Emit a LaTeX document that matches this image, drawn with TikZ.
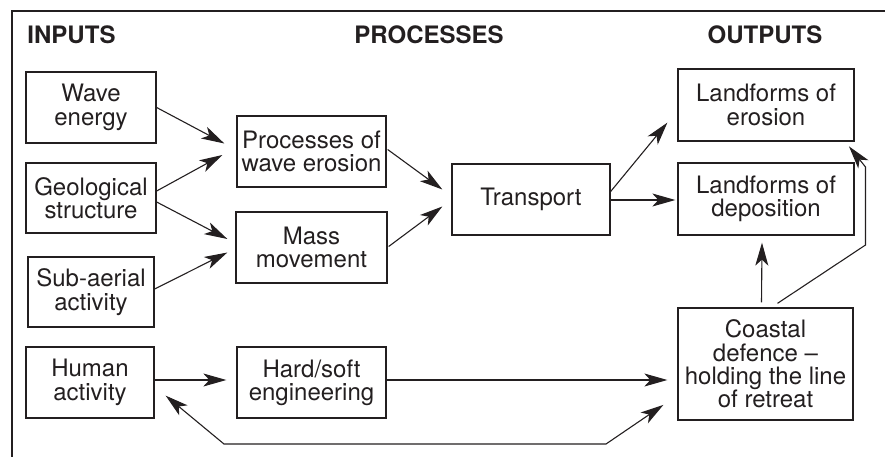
\documentclass[tikz,border=0pt]{standalone}
\usepackage{fontspec}
\setmainfont{TeX Gyre Heros}
\usetikzlibrary{arrows.meta,calc}
\definecolor{ink}{HTML}{231F20}
\begin{document}
\begin{tikzpicture}[x=1pt,y=-1pt,
  box/.style={draw=ink,line width=1.3pt,text=ink,align=center,inner sep=1pt,
    font=\fontsize{24}{23.3}\selectfont},
  head/.style={text=ink,font=\bfseries\fontsize{24}{24}\selectfont,inner sep=0pt},
  tip/.tip={Stealth[length=23pt,width=13pt,inset=6pt]},
  arr/.style={draw=ink,line width=1.1pt,-tip},
  dbl/.style={draw=ink,line width=1.1pt,tip-tip},
  frame/.style={draw=ink,line width=2pt}
]
\useasboundingbox (0,0) rectangle (885,457);
% frame
\coordinate (fb) at (11.7,458);
\coordinate (fc) at (11.7,11);
\coordinate (fr) at (886,11);
\draw[frame] (fb) -- (fc) -- (fr);
% headings
\node[head] (hin) at (71.5,34.5) {INPUTS};
\node[head] (hpr) at (429,34.5) {PROCESSES};
\node[head] (hout) at (765,34.5) {OUTPUTS};
% inputs
\node[box,minimum width=130pt,minimum height=71pt] (we) at (91,107.5) {Wave\\energy};
\node[box,minimum width=130pt,minimum height=70pt] (geo) at (91,198) {Geological\\structure};
\node[box,minimum width=126pt,minimum height=70pt] (sub) at (91,292) {Sub-aerial\\activity};
\node[box,minimum width=128pt,minimum height=71pt] (hum) at (90,382.5) {Human\\activity};
% processes
\node[box,minimum width=149pt,minimum height=71pt] (pwe) at (311.5,151.5) {Processes of\\wave erosion};
\node[box,minimum width=151pt,minimum height=71pt] (mass) at (311.5,247.5) {Mass\\movement};
\node[box,minimum width=149pt,minimum height=71pt] (hard) at (311.5,382.5) {Hard/soft\\engineering};
\node[box,minimum width=158pt,minimum height=71pt] (trans) at (531,199.5) {Transport};
% outputs
\node[box,minimum width=176pt,minimum height=72pt] (lero) at (766,105) {Landforms of\\erosion};
\node[box,minimum width=176pt,minimum height=72pt] (ldep) at (766,199) {Landforms of\\deposition};
\node[box,minimum width=175pt,minimum height=112pt] (coast) at (765.5,364) {Coastal\\defence --\\holding the line\\of retreat};
% arrows
\draw[arr] (we.east) -- ($(pwe.west)+(-12,-8)$);
\draw[arr] ($(geo.east)+(0,-7)$) -- ($(pwe.west)+(-14,3.5)$);
\draw[arr] ($(geo.east)+(0,4)$) -- ($(mass.west)+(-8,-8.5)$);
\draw[arr] ($(sub.east)+(0,-3)$) -- ($(mass.west)+(-8,5)$);
\draw[arr] ($(pwe.east)+(1,-2)$) -- ($(trans.west)+(-9,-10)$);
\draw[arr] ($(mass.east)+(1,-1)$) -- ($(trans.west)+(-9,7)$);
\draw[arr] ($(trans.east)+(0,-8)$) -- ($(lero.south west)+(-10,-19)$);
\draw[arr] ($(trans.east)+(0,0.5)$) -- ($(ldep.west)+(-2,1)$);
\draw[arr] ($(hum.east)+(0,-2.5)$) -- ($(hard.west)+(-10,-2.5)$);
\draw[arr] ($(hard.east)+(0,-2.5)$) -- ($(coast.west)+(-10,16)$);
\coordinate (b1) at (224,444);
\coordinate (b2) at (606,444);
\draw[dbl] ($(hum.south east)+(11,-23)$) -- (b1) -- (b2) -- ($(coast.south west)+(-14,-15.7)$);
\draw[arr] ($(coast.north)+(-4,-5)$) -- ($(ldep.south)+(-4,7)$);
\coordinate (c1) at (865.5,245);
\coordinate (c2) at (865.5,167);
\draw[arr] ($(coast.north)+(12,-4)$) -- (c1) -- (c2) -- ($(lero.south east)+(-5.7,4.7)$);
\end{tikzpicture}
\end{document}
